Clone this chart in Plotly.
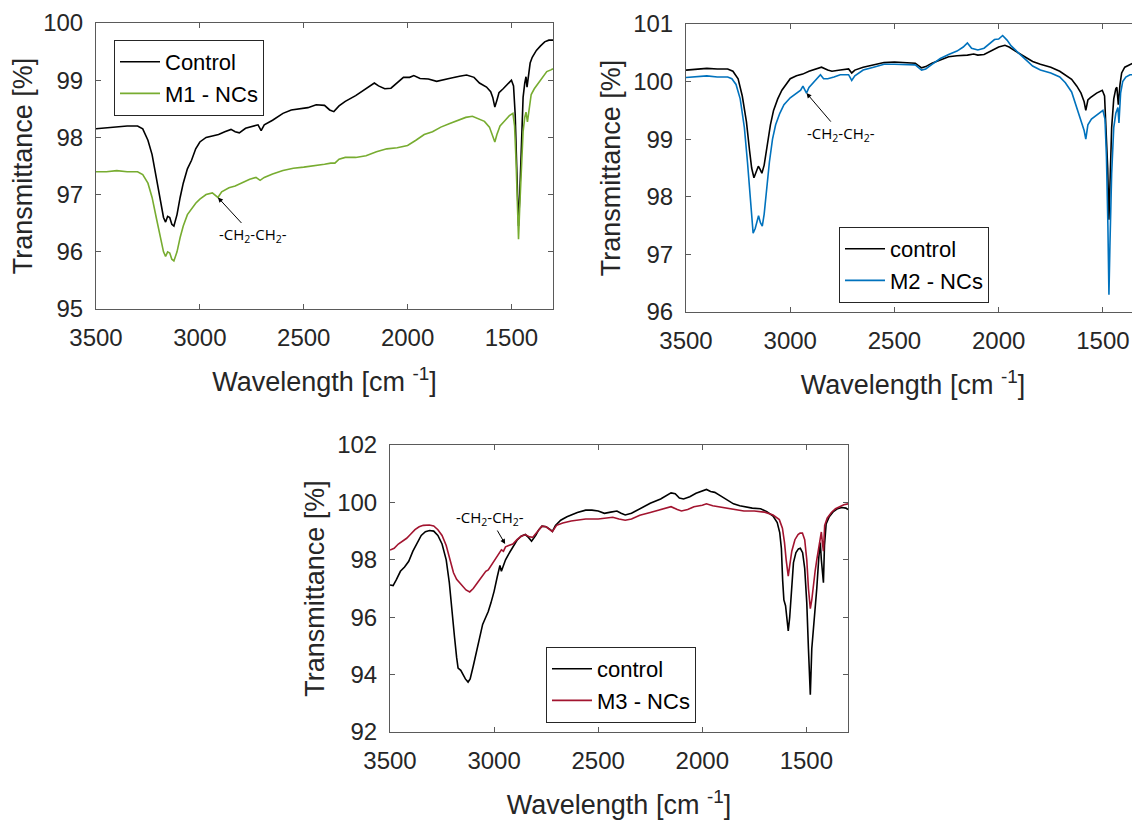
import plotly.graph_objects as go

# ---- panel 1: Control vs M1 - NCs ----
p1_ctrl_x = [3500, 3450, 3400, 3350, 3300, 3275, 3250, 3230, 3210, 3190, 3175, 3165, 3155, 3145,
             3135, 3125, 3110, 3095, 3080, 3060, 3040, 3020, 3000, 2970, 2940, 2910, 2880, 2850,
             2830, 2810, 2780, 2740, 2720, 2705, 2690, 2650, 2600, 2560, 2520, 2480, 2440, 2400,
             2375, 2355, 2330, 2300, 2250, 2200, 2160, 2140, 2110, 2080, 2050, 2020, 1990, 1970,
             1940, 1900, 1860, 1830, 1800, 1750, 1716, 1680, 1654, 1620, 1600, 1590, 1580, 1570,
             1560, 1540, 1520, 1500, 1490, 1482, 1474, 1466, 1460, 1452, 1444, 1436, 1430, 1425,
             1418, 1410, 1400, 1380, 1360, 1340, 1320, 1300]
p1_ctrl_y = [98.15, 98.17, 98.18, 98.2, 98.2, 98.15, 97.95, 97.7, 97.3, 96.9, 96.6, 96.52, 96.62, 96.6,
             96.48, 96.45, 96.65, 96.95, 97.2, 97.45, 97.6, 97.8, 97.92, 98.0, 98.03, 98.05, 98.1, 98.14,
             98.1, 98.08, 98.16, 98.2, 98.22, 98.12, 98.22, 98.3, 98.42, 98.48, 98.5, 98.52, 98.57, 98.56,
             98.48, 98.45, 98.55, 98.63, 98.73, 98.85, 98.95, 98.9, 98.85, 98.86, 98.95, 99.05, 99.05, 99.08,
             99.03, 99.02, 98.98, 99.0, 99.03, 99.07, 99.09, 99.05, 98.95, 98.88, 98.8, 98.7, 98.53, 98.65,
             98.78, 98.85, 98.92, 99.0, 98.9, 98.4, 97.4, 96.45, 97.0, 98.1, 98.7, 98.95, 99.06, 98.88,
             99.1, 99.3, 99.4, 99.52, 99.6, 99.67, 99.7, 99.7]

p1_m1_x = [3500, 3450, 3400, 3350, 3300, 3275, 3250, 3230, 3210, 3190, 3175, 3165, 3155, 3145,
           3135, 3125, 3110, 3095, 3080, 3060, 3040, 3020, 3000, 2970, 2940, 2925, 2913, 2895,
           2860, 2830, 2800, 2760, 2730, 2710, 2690, 2650, 2600, 2550, 2500, 2450, 2400, 2370,
           2350, 2330, 2300, 2250, 2200, 2150, 2100, 2050, 2000, 1960, 1920, 1880, 1840, 1800,
           1760, 1720, 1688, 1660, 1630, 1606, 1592, 1580, 1570, 1555, 1530, 1510, 1493, 1485,
           1478, 1471, 1466, 1460, 1452, 1444, 1436, 1430, 1423, 1416, 1405, 1390, 1370, 1350,
           1330, 1310, 1300]
p1_m1_y = [97.4, 97.4, 97.42, 97.4, 97.4, 97.35, 97.2, 96.95, 96.6, 96.25, 96.0, 95.92, 96.0, 95.98,
           95.87, 95.84, 96.0, 96.25, 96.45, 96.65, 96.75, 96.85, 96.92, 97.0, 97.03, 96.98, 96.95, 97.05,
           97.12, 97.15, 97.2, 97.27, 97.3, 97.25, 97.3, 97.36, 97.42, 97.46, 97.48, 97.5, 97.53, 97.55,
           97.55, 97.62, 97.65, 97.65, 97.68, 97.75, 97.8, 97.82, 97.86, 97.95, 98.05, 98.1, 98.18, 98.24,
           98.3, 98.35, 98.37, 98.33, 98.28, 98.18, 98.05, 97.92, 98.05, 98.2, 98.3, 98.38, 98.42, 98.2,
           97.6, 96.9, 96.22, 96.8, 97.6, 98.1, 98.35, 98.44, 98.27, 98.5, 98.75, 98.85, 98.95, 99.05,
           99.15, 99.18, 99.2]

# ---- panel 2: control vs M2 - NCs ----
p2_ctrl_x = [3500, 3450, 3400, 3350, 3300, 3275, 3250, 3230, 3210, 3195, 3185, 3174, 3162, 3153,
             3145, 3136, 3125, 3110, 3095, 3080, 3060, 3040, 3020, 3000, 2970, 2940, 2910, 2880,
             2850, 2820, 2800, 2760, 2720, 2705, 2690, 2650, 2600, 2550, 2500, 2450, 2400, 2370,
             2350, 2320, 2280, 2240, 2200, 2150, 2120, 2100, 2070, 2040, 2000, 1970, 1950, 1920,
             1880, 1837, 1800, 1750, 1707, 1680, 1650, 1625, 1605, 1590, 1582, 1572, 1560, 1530,
             1503, 1492, 1484, 1477, 1471, 1465, 1458, 1448, 1438, 1433, 1426, 1418, 1410, 1395,
             1370, 1350, 1322]
p2_ctrl_y = [100.2, 100.22, 100.23, 100.22, 100.22, 100.18, 100.05, 99.75, 99.3, 98.8, 98.5, 98.33, 98.45, 98.53,
             98.48, 98.41, 98.55, 98.9, 99.25, 99.5, 99.7, 99.85, 99.95, 100.05, 100.1, 100.13, 100.18, 100.22,
             100.25, 100.2, 100.18, 100.2, 100.22, 100.15, 100.2, 100.25, 100.29, 100.33, 100.34, 100.33, 100.32, 100.24,
             100.26, 100.32, 100.38, 100.43, 100.45, 100.46, 100.48, 100.46, 100.47, 100.52, 100.6, 100.63, 100.6, 100.53,
             100.45, 100.35, 100.3, 100.25, 100.18, 100.12, 100.04, 99.92, 99.8, 99.65, 99.5, 99.68, 99.72, 99.8,
             99.85, 99.75, 99.2, 98.5, 97.6, 98.4, 99.2, 99.7, 99.88, 99.9, 99.6, 99.95, 100.15, 100.25,
             100.3, 100.33, 100.31]

p2_m2_x = [3500, 3450, 3400, 3350, 3300, 3280, 3260, 3240, 3220, 3205, 3192, 3185, 3178, 3168,
           3158, 3152, 3143, 3134, 3125, 3112, 3100, 3085, 3070, 3050, 3030, 3000, 2970, 2950,
           2939, 2930, 2922, 2910, 2890, 2870, 2855, 2840, 2820, 2790, 2760, 2720, 2705, 2690,
           2650, 2600, 2550, 2500, 2450, 2400, 2370, 2350, 2320, 2280, 2240, 2200, 2170, 2150,
           2130, 2100, 2070, 2040, 2020, 2000, 1981, 1960, 1940, 1900, 1870, 1837, 1800, 1750,
           1707, 1680, 1650, 1625, 1605, 1590, 1582, 1572, 1555, 1530, 1500, 1490, 1483, 1476,
           1471, 1466, 1458, 1448, 1438, 1428, 1423, 1415, 1405, 1390, 1370, 1350, 1322]
p2_m2_y = [100.07, 100.08, 100.1, 100.08, 100.08, 100.05, 99.95, 99.7, 99.2, 98.6, 98.0, 97.6, 97.37, 97.45,
           97.62, 97.67, 97.55, 97.49, 97.7, 98.2, 98.6, 99.0, 99.25, 99.45, 99.6, 99.72, 99.8, 99.85,
           99.92, 99.85, 99.8, 99.9, 99.98, 100.05, 100.12, 100.05, 100.05, 100.08, 100.12, 100.12, 100.02, 100.1,
           100.2, 100.25, 100.3, 100.3, 100.3, 100.29, 100.2, 100.22, 100.3, 100.4, 100.47, 100.53, 100.6, 100.67,
           100.58, 100.55, 100.58, 100.68, 100.73, 100.74, 100.8, 100.72, 100.62, 100.48, 100.38, 100.27, 100.2, 100.15,
           100.08, 99.98, 99.82, 99.55, 99.35, 99.15, 99.0, 99.25, 99.35, 99.42, 99.5, 99.35, 98.7, 97.5,
           96.3, 97.2, 98.4, 99.2, 99.45, 99.55, 99.28, 99.8, 100.0, 100.08, 100.12, 100.12, 100.08]

# ---- panel 3: control vs M3 - NCs ----
p3_ctrl_x = [3500, 3485, 3470, 3450, 3430, 3410, 3390, 3370, 3350, 3330, 3310, 3290, 3270, 3250,
             3230, 3215, 3200, 3190, 3180, 3173, 3160, 3150, 3138, 3125, 3115, 3100, 3085, 3070,
             3055, 3040, 3028, 3015, 3000, 2985, 2972, 2965, 2958, 2945, 2930, 2910, 2890, 2870,
             2850, 2835, 2820, 2800, 2785, 2770, 2750, 2730, 2720, 2705, 2680, 2650, 2600, 2560,
             2530, 2500, 2470, 2440, 2410, 2390, 2370, 2340, 2300, 2250, 2200, 2170, 2150, 2130,
             2110, 2090, 2060, 2030, 2000, 1980, 1960, 1940, 1910, 1880, 1850, 1820, 1800, 1760,
             1720, 1690, 1660, 1640, 1628, 1620, 1614, 1608, 1600, 1593, 1587, 1580, 1572, 1562,
             1550, 1538, 1529, 1518, 1508, 1498, 1490, 1481, 1474, 1466, 1458, 1450, 1440, 1433,
             1428, 1422, 1418, 1413, 1405, 1390, 1370, 1350, 1330, 1310, 1300]
p3_ctrl_y = [97.12, 97.1, 97.3, 97.6, 97.75, 97.95, 98.3, 98.6, 98.85, 98.98, 99.02, 99.0, 98.85, 98.55,
             98.0, 97.2, 96.2, 95.3, 94.6, 94.23, 94.15, 94.0, 93.85, 93.74, 93.85, 94.3, 94.8, 95.3,
             95.75, 96.0, 96.2, 96.5, 96.9, 97.4, 97.8, 97.6, 97.75, 98.0, 98.2, 98.45, 98.68, 98.82,
             98.88, 98.78, 98.65, 98.85, 99.05, 99.17, 99.15, 99.05, 98.99, 99.2, 99.38, 99.5, 99.65, 99.73,
             99.73, 99.7, 99.62, 99.66, 99.7, 99.62, 99.56, 99.62, 99.78, 99.97, 100.12, 100.25, 100.33, 100.3,
             100.15, 100.12, 100.2, 100.32, 100.4, 100.45, 100.38, 100.35, 100.22, 100.08, 99.95, 99.88, 99.85, 99.8,
             99.78, 99.68, 99.52, 99.3, 98.95, 98.4, 97.3, 96.6, 96.4, 95.9, 95.52, 96.0, 97.0, 97.9,
             98.25, 98.38, 98.4, 98.25, 97.7, 96.5, 94.9, 93.3, 94.9, 95.6, 96.0, 97.0, 98.1, 98.6,
             98.0, 97.4, 97.2, 98.5, 99.25, 99.5, 99.68, 99.78, 99.82, 99.8, 99.75]

p3_m3_x = [3500, 3480, 3460, 3440, 3420, 3400, 3380, 3360, 3340, 3311, 3290, 3270, 3250, 3230,
           3210, 3195, 3180, 3165, 3150, 3135, 3117, 3100, 3080, 3060, 3040, 3028, 3010, 2990,
           2975, 2965, 2955, 2945, 2930, 2910, 2890, 2870, 2850, 2830, 2815, 2800, 2785, 2770,
           2750, 2730, 2720, 2700, 2670, 2630, 2600, 2560, 2500, 2460, 2430, 2400, 2370, 2340,
           2300, 2250, 2200, 2170, 2150, 2120, 2100, 2070, 2040, 2000, 1980, 1950, 1900, 1850,
           1800, 1750, 1700, 1660, 1630, 1615, 1605, 1597, 1592, 1587, 1580, 1570, 1555, 1540,
           1530, 1519, 1508, 1498, 1490, 1481, 1474, 1466, 1458, 1450, 1440, 1432, 1428, 1423,
           1418, 1412, 1400, 1380, 1360, 1340, 1320, 1300]
p3_m3_y = [98.34, 98.4, 98.55, 98.65, 98.75, 98.9, 99.05, 99.15, 99.2, 99.21, 99.18, 99.05, 98.85, 98.5,
           98.0, 97.55, 97.32, 97.2, 97.05, 96.95, 96.88, 97.0, 97.2, 97.4, 97.6, 97.65, 97.85, 98.05,
           98.25, 98.35, 98.3, 98.45, 98.5, 98.55, 98.7, 98.82, 98.88, 98.8, 98.78, 98.9, 99.05, 99.17,
           99.15, 99.02, 98.98, 99.2, 99.28, 99.35, 99.38, 99.42, 99.42, 99.46, 99.48, 99.42, 99.38, 99.42,
           99.55, 99.65, 99.75, 99.8, 99.85, 99.75, 99.7, 99.75, 99.85, 99.9, 99.95, 99.88, 99.82, 99.75,
           99.7, 99.7, 99.66, 99.56, 99.4, 99.1, 98.6, 98.0, 97.6, 97.43, 97.8, 98.3, 98.7, 98.88,
           98.93, 98.93, 98.7, 98.0, 97.0, 96.3, 96.6, 97.2, 97.6, 98.0, 98.5, 98.9, 98.97, 98.6,
           98.3, 99.2, 99.45, 99.65, 99.78, 99.85, 99.92, 99.95]

x_ticks = [3500, 3000, 2500, 2000, 1500]

# the page body adds an 8px margin, so the figure is drawn 8px smaller
# and all target pixel positions are shifted back by that amount
OFF = 8
W, H = 1140 - OFF, 821 - OFF
FONT = "Liberation Sans, Arial, sans-serif"
TXT = "#262626"
GREEN, BLUE, RED = "#77AC30", "#0072BD", "#A2142F"


def xdom(left, right):
    return [(left - OFF) / W, min(1.0, (right - OFF) / W)]


def ydom(top, bottom):
    return [1 - (bottom - OFF) / H, 1 - (top - OFF) / H]


def px(xp, yp):
    return (xp - OFF) / W, 1 - (yp - OFF) / H


fig = go.Figure()

fig.add_trace(go.Scatter(x=p1_ctrl_x, y=p1_ctrl_y, name="Control", mode="lines",
                         line=dict(color="black", width=1.6), xaxis="x", yaxis="y", legend="legend"))
fig.add_trace(go.Scatter(x=p1_m1_x, y=p1_m1_y, name="M1 - NCs", mode="lines",
                         line=dict(color=GREEN, width=1.6), xaxis="x", yaxis="y", legend="legend"))
fig.add_trace(go.Scatter(x=p2_ctrl_x, y=p2_ctrl_y, name="control", mode="lines",
                         line=dict(color="black", width=1.6), xaxis="x2", yaxis="y2", legend="legend2"))
fig.add_trace(go.Scatter(x=p2_m2_x, y=p2_m2_y, name="M2 - NCs", mode="lines",
                         line=dict(color=BLUE, width=1.6), xaxis="x2", yaxis="y2", legend="legend2"))
fig.add_trace(go.Scatter(x=p3_ctrl_x, y=p3_ctrl_y, name="control", mode="lines",
                         line=dict(color="black", width=1.6), xaxis="x3", yaxis="y3", legend="legend3"))
fig.add_trace(go.Scatter(x=p3_m3_x, y=p3_m3_y, name="M3 - NCs", mode="lines",
                         line=dict(color=RED, width=1.6), xaxis="x3", yaxis="y3", legend="legend3"))

axis_common = dict(showline=True, linecolor="#5a5a5a", linewidth=1, ticks="inside", ticklen=5,
                   tickcolor="#5a5a5a", showgrid=False, zeroline=False, automargin=False,
                   tickfont=dict(size=24, color=TXT, family=FONT), ticklabelstandoff=7)
x_title = dict(text="Wavelength [cm <sup>-1</sup>]", font=dict(size=27, color=TXT, family=FONT), standoff=22)
y_title = dict(text="Transmittance [%]", font=dict(size=27, color=TXT, family=FONT), standoff=4)

fig.update_layout(
    width=W, height=H, margin=dict(l=0, r=0, t=0, b=0),
    paper_bgcolor="white", plot_bgcolor="white",
    font=dict(family=FONT, color=TXT),
    xaxis=dict(axis_common, domain=xdom(96, 553), range=[3500, 1300], tickvals=x_ticks,
               mirror="ticks", anchor="y", title=x_title),
    yaxis=dict(axis_common, domain=ydom(23, 309), range=[95, 100], dtick=1,
               mirror="ticks", anchor="x", title=y_title),
    xaxis2=dict(axis_common, domain=xdom(686, 1140), range=[3500, 1322], tickvals=x_ticks,
                mirror="ticks", anchor="y2", title=x_title),
    yaxis2=dict(axis_common, domain=ydom(24, 312), range=[96, 101], dtick=1,
                mirror=False, anchor="x2", title=y_title),
    xaxis3=dict(axis_common, domain=xdom(390, 848), range=[3500, 1300], tickvals=x_ticks,
                mirror="ticks", anchor="y3", title=x_title),
    yaxis3=dict(axis_common, domain=ydom(445, 732), range=[92, 102], dtick=2,
                mirror="ticks", anchor="x3", title=y_title),
)

legend_common = dict(bgcolor="white", bordercolor="#262626", borderwidth=1,
                     font=dict(size=22, color="black", family=FONT), xanchor="left", yanchor="top",
                     tracegroupgap=0, itemwidth=40)
lx1, ly1 = px(114, 40)
lx2, ly2 = px(839, 227)
lx3, ly3 = px(546, 647)
fig.update_layout(
    legend=dict(legend_common, x=lx1, y=ly1),
    legend2=dict(legend_common, x=lx2, y=ly2),
    legend3=dict(legend_common, x=lx3, y=ly3),
)

ann_font = dict(size=15, color="black", family="Open Sans, sans-serif")
label = "-CH<sub>2</sub>-CH<sub>2</sub>-"
for xref, yref, x, y, ax, ay in [("x", "y", 2913, 96.95, 35, 38),
                                 ("x2", "y2", 2922, 99.8, 35, 41),
                                 ("x3", "y3", 2947, 98.55, -15, -26)]:
    fig.add_annotation(x=x, y=y, xref=xref, yref=yref, text=label, showarrow=True,
                       ax=ax, ay=ay, arrowhead=2, arrowsize=1, arrowwidth=1,
                       arrowcolor="black", font=ann_font)

fig.write_html("out.html")
